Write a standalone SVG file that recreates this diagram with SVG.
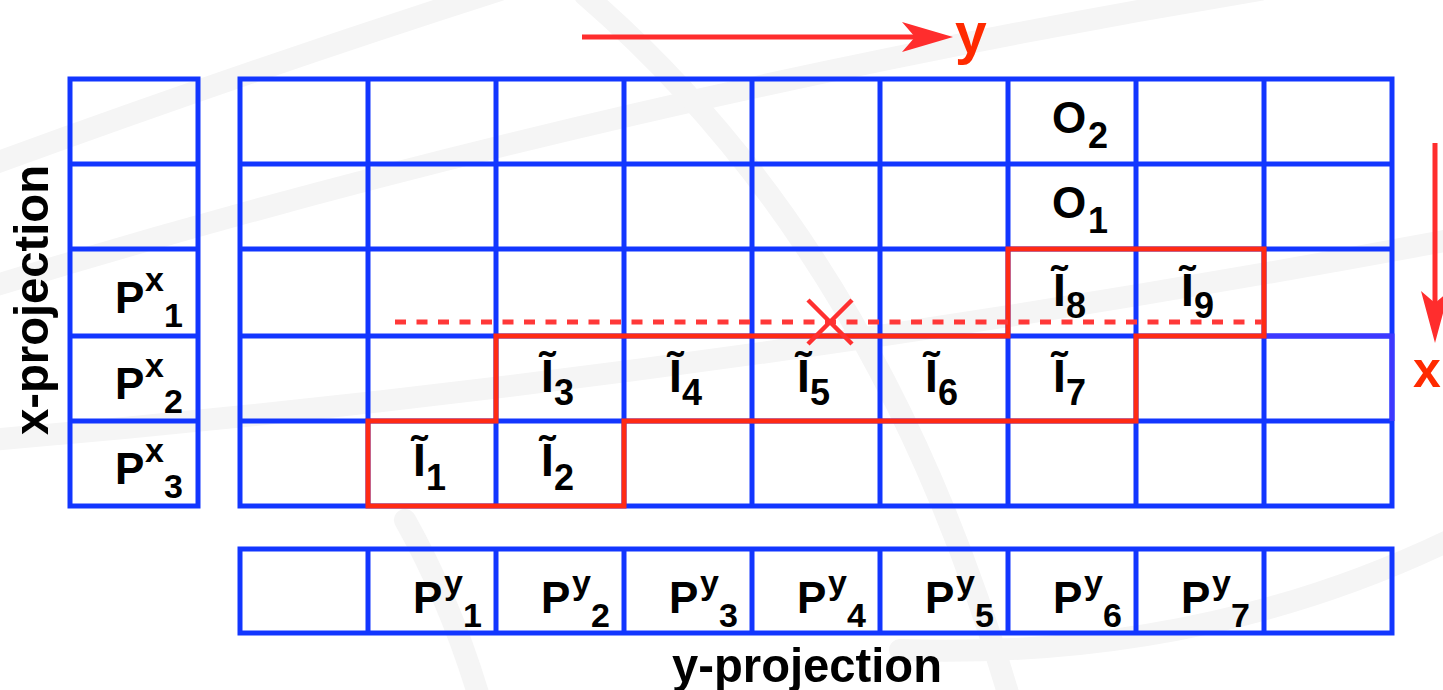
<svg xmlns="http://www.w3.org/2000/svg" width="1443" height="690" viewBox="0 0 1443 690">
<style>
.bg{fill:none;stroke:#f5f5f5;stroke-width:22;stroke-linecap:round}
.grid{fill:none;stroke:#1236ff;stroke-width:5}
.region{fill:none;stroke:#ff2a14;stroke-width:5;stroke-linejoin:miter}
.t{font-family:"Liberation Sans",Arial,Helvetica,sans-serif;font-weight:bold;fill:#000}
.m{font-size:46px}
.ms{font-size:36px}
.p{font-size:44px}
.ps{font-size:34px}
.ax{font-size:49px}
.red{font-family:"Liberation Sans",Arial,Helvetica,sans-serif;font-weight:bold;fill:#ff2a00}
</style>
<rect width="1443" height="690" fill="#fff"/>
<g id="background">
<path class="bg" d="M -20 290 Q 600 100 1260 -10"/>
<path class="bg" d="M -10 165 Q 250 70 500 -10"/>
<path class="bg" d="M 585 -5 Q 880 250 1010 700"/>
<path class="bg" d="M -10 440 Q 700 380 1450 240"/>
<path class="bg" d="M 1450 540 Q 1200 660 900 650"/>
<path class="bg" d="M 405 520 Q 450 600 480 700"/>
</g>
<g id="x-projection">
<rect class="grid" x="70" y="79" width="128" height="427"/>
<path class="grid" d="M70 164H198M70 249H198M70 336H198M70 421H198"/>
<text class="t p" x="115" y="313">P<tspan class="ps" x="145" y="291">x</tspan><tspan class="ps" x="164" y="327">1</tspan></text>
<text class="t p" x="115" y="399">P<tspan class="ps" x="145" y="377">x</tspan><tspan class="ps" x="164" y="413">2</tspan></text>
<text class="t p" x="115" y="484">P<tspan class="ps" x="145" y="462">x</tspan><tspan class="ps" x="164" y="498">3</tspan></text>
</g>
<g id="main-grid">
<rect class="grid" x="240" y="79" width="1152" height="427"/>
<path class="grid" d="M240 164H1392M240 249H1392M240 336H1392M240 421H1392M368 79V506M496 79V506M624 79V506M752 79V506M880 79V506M1008 79V506M1136 79V506M1264 79V506"/>
<path d="M1264 336H1392V421" fill="none" stroke="#3d38ff" stroke-width="5"/>
</g>
<g id="y-projection">
<rect class="grid" x="240" y="549" width="1152" height="84"/>
<path class="grid" d="M368 549V633M496 549V633M624 549V633M752 549V633M880 549V633M1008 549V633M1136 549V633M1264 549V633"/>
<text class="t p" x="413" y="613">P<tspan class="ps" x="444" y="594">y</tspan><tspan class="ps" x="463" y="627">1</tspan></text>
<text class="t p" x="541" y="613">P<tspan class="ps" x="572" y="594">y</tspan><tspan class="ps" x="591" y="627">2</tspan></text>
<text class="t p" x="669" y="613">P<tspan class="ps" x="700" y="594">y</tspan><tspan class="ps" x="719" y="627">3</tspan></text>
<text class="t p" x="797" y="613">P<tspan class="ps" x="828" y="594">y</tspan><tspan class="ps" x="847" y="627">4</tspan></text>
<text class="t p" x="925" y="613">P<tspan class="ps" x="956" y="594">y</tspan><tspan class="ps" x="975" y="627">5</tspan></text>
<text class="t p" x="1053" y="613">P<tspan class="ps" x="1084" y="594">y</tspan><tspan class="ps" x="1103" y="627">6</tspan></text>
<text class="t p" x="1181" y="613">P<tspan class="ps" x="1212" y="594">y</tspan><tspan class="ps" x="1231" y="627">7</tspan></text>
</g>
<g id="region">
<path class="region" d="M368 421H496V336H1008V249H1264V336H1136V421H624V506H368Z"/>
</g>
<g id="labels">
<g id="O2"><text class="t p" x="1052" y="133">O<tspan class="ms" x="1088" y="148">2</tspan></text></g>
<g id="O1"><text class="t p" x="1052" y="218">O<tspan class="ms" x="1088" y="233">1</tspan></text></g>
<g id="I1"><text class="t m" x="413" y="476">Ĩ<tspan class="ms" x="426" y="490">1</tspan></text></g>
<g id="I2"><text class="t m" x="541" y="476">Ĩ<tspan class="ms" x="554" y="490">2</tspan></text></g>
<g id="I3"><text class="t m" x="541" y="392">Ĩ<tspan class="ms" x="554" y="405">3</tspan></text></g>
<g id="I4"><text class="t m" x="669" y="392">Ĩ<tspan class="ms" x="682" y="405">4</tspan></text></g>
<g id="I5"><text class="t m" x="797" y="392">Ĩ<tspan class="ms" x="810" y="405">5</tspan></text></g>
<g id="I6"><text class="t m" x="925" y="392">Ĩ<tspan class="ms" x="938" y="405">6</tspan></text></g>
<g id="I7"><text class="t m" x="1053" y="392">Ĩ<tspan class="ms" x="1066" y="405">7</tspan></text></g>
<g id="I8"><text class="t m" x="1053" y="306">Ĩ<tspan class="ms" x="1066" y="318">8</tspan></text></g>
<g id="I9"><text class="t m" x="1181" y="306">Ĩ<tspan class="ms" x="1194" y="318">9</tspan></text></g>
<text class="t ax" x="807" y="682" text-anchor="middle" textLength="270" lengthAdjust="spacingAndGlyphs">y-projection</text>
<text class="t ax" transform="translate(48 300) rotate(-90)" x="0" y="0" text-anchor="middle" textLength="270" lengthAdjust="spacingAndGlyphs">x-projection</text>
</g>
<g id="connectors">
<line x1="395" y1="322" x2="1262" y2="322" stroke="#ff3838" stroke-width="5" stroke-dasharray="11 10.5"/>
<path d="M808 300L852 344M852 300L808 344" stroke="#ff3030" stroke-width="4.5" fill="none"/>
<line x1="582" y1="37" x2="916" y2="37" stroke="#ff2d2d" stroke-width="5"/>
<path d="M953 37L902 22L915 37L902 52Z" fill="#ff2d2d"/>
<line x1="1435" y1="143" x2="1435" y2="305" stroke="#ff2d2d" stroke-width="5"/>
<path d="M1435 343L1421 291L1435 303L1449 291Z" fill="#ff2d2d"/>
<text class="red" x="955" y="53" font-size="57">y</text>
<text class="red" x="1413" y="387" font-size="50">x</text>
</g>
</svg>
